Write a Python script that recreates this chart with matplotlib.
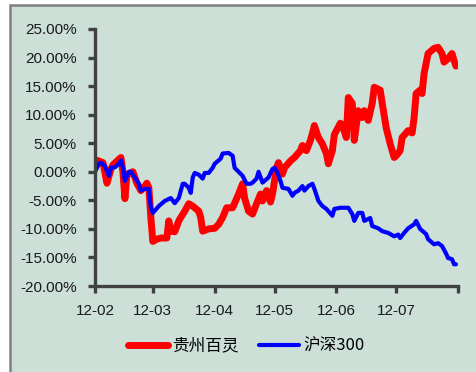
import numpy as np
import pandas as pd
import matplotlib
matplotlib.use('Agg')
import matplotlib.pyplot as plt
from matplotlib.patches import Rectangle

# days since 2012-02-01 and cumulative return (%)
red_days = [0, 1, 4, 6, 8, 9, 12, 13, 14, 15, 16, 19, 21, 23, 25, 26, 27, 28, 29, 31,
            33, 36, 37, 38, 40, 42, 43, 45, 47, 49, 52, 53, 54, 57, 60, 62, 64, 66, 69, 72,
            74, 75, 77, 79, 81, 83, 84, 86, 88, 89, 91, 92, 94, 95, 98, 100, 103, 104, 106, 108,
            109, 110, 112, 114, 116, 117, 119, 120, 123, 124, 126, 127, 129, 130, 132, 134, 135, 137, 139, 140,
            143, 144, 146, 148, 150, 151, 153, 154, 157, 159, 160, 161, 163, 164, 165, 167, 170, 172, 174, 175,
            177, 179, 180, 181]
red_vals = [1.0, 2.0, 1.6, -2.0, 0.5, 1.2, 2.2, 2.5, 0.0, -4.7, -0.5, 0.0, -2.0, -3.3, -2.5, -2.0, -2.8, -8.0, -12.2, -11.8,
            -11.6, -11.6, -8.6, -10.4, -10.5, -8.6, -8.0, -6.9, -5.6, -6.0, -6.9, -8.0, -10.4, -10.0, -9.9, -9.2, -8.0, -6.3, -6.3, -3.9,
            -2.1, -4.6, -6.9, -7.4, -5.6, -3.9, -5.1, -3.3, -5.3, -3.9, 0.7, 1.6, -0.4, 0.7, 1.9, 2.5, 3.7, 4.6, 3.7, 5.5,
            6.7, 8.1, 6.0, 4.9, 3.2, 1.4, 3.7, 6.5, 8.5, 8.2, 6.0, 13.0, 12.0, 5.5, 10.7, 9.5, 10.7, 9.0, 12.0, 14.8,
            14.3, 12.0, 7.7, 4.9, 2.5, 2.8, 3.7, 6.0, 7.2, 6.8, 9.5, 13.7, 14.3, 13.7, 17.2, 20.7, 21.6, 21.8, 20.7, 19.2,
            19.8, 20.7, 19.5, 18.5]

blue_days = [0, 2, 3, 5, 7, 8, 10, 12, 13, 14, 15, 17, 18, 20, 22, 23, 25, 27, 28, 29,
             32, 35, 38, 40, 42, 44, 45, 47, 48, 49, 50, 52, 54, 55, 57, 59, 60, 63, 64, 67,
             69, 70, 72, 74, 76, 78, 79, 81, 82, 84, 85, 87, 89, 90, 91, 93, 94, 97, 99, 100,
             102, 104, 105, 107, 109, 110, 112, 114, 116, 117, 119, 120, 123, 125, 127, 129, 130, 132, 134, 135,
             138, 139, 142, 144, 147, 150, 152, 153, 155, 157, 160, 161, 163, 166, 167, 170, 172, 174, 176, 177,
             179, 180, 181]
blue_vals = [0.0, 1.4, 1.6, 1.0, -0.7, 0.7, 0.8, 1.4, 2.0, 0.7, -1.6, 0.0, 0.0, -1.0, -2.1, -3.3, -3.0, -3.0, -6.3, -7.2,
             -6.0, -5.1, -4.6, -5.5, -4.6, -2.1, -2.1, -2.8, -3.7, -1.0, -0.2, -0.5, -1.2, -0.2, -0.2, 0.7, 1.4, 2.3, 3.2, 3.3,
             2.8, 0.7, 0.0, -0.7, -2.1, -2.1, -1.9, -1.2, 0.0, -1.9, -1.6, -1.0, 0.5, 0.7, 0.2, -1.6, -2.8, -3.0, -4.2, -3.7,
             -3.3, -2.5, -3.3, -2.5, -2.1, -3.0, -5.1, -6.0, -6.5, -6.9, -7.7, -6.5, -6.3, -6.3, -6.3, -7.4, -8.6, -7.2, -7.2, -8.6,
             -8.1, -9.5, -9.9, -10.4, -10.7, -11.3, -11.0, -11.6, -10.7, -9.9, -9.2, -8.6, -10.0, -10.9, -11.8, -12.7, -12.5, -13.0, -14.3, -15.1,
             -15.3, -16.2, -16.2]

series_names = ['贵州百灵', '沪深300']
month_labels = ['12-02', '12-03', '12-04', '12-05', '12-06', '12-07', '']
y_ticks = [-20, -15, -10, -5, 0, 5, 10, 15, 20, 25]

bg = '#cce0d8'
spine_color = '#404040'

start = pd.Timestamp('2012-02-01')
month_starts = pd.date_range('2012-02-01', '2012-08-01', freq='MS')
tick_pos = [(d - start).days for d in month_starts]

fig = plt.figure(figsize=(4.76, 3.72), dpi=100)
fig.patch.set_facecolor('white')
# gray framed panel (top/left border visible)
fig.patches.append(Rectangle((10 / 476, -0.1), 1.2, 1.1 - 5 / 372, transform=fig.transFigure,
                             facecolor=bg, edgecolor='#808080', linewidth=1.8, zorder=-5))

ax = fig.add_axes([95 / 476, 1 - 286 / 372, (458 - 95) / 476, (286 - 29) / 372])
ax.set_facecolor('none')
ax.set_zorder(2)

ax.plot(red_days, red_vals, color='#ff0000', lw=5.0, solid_capstyle='round',
        solid_joinstyle='round', label=series_names[0])
ax.plot(blue_days, blue_vals, color='#0000ff', lw=3.0, solid_capstyle='round',
        solid_joinstyle='round', label=series_names[1])

ax.set_xlim(tick_pos[0], tick_pos[-1])
ax.set_ylim(-20, 25)
ax.set_xticks(tick_pos)
ax.set_xticklabels(month_labels)
ax.set_yticks(y_ticks)
ax.set_yticklabels([f'{v:.2f}%' for v in y_ticks])

for side in ['top', 'right']:
    ax.spines[side].set_visible(False)
for side in ['left', 'bottom']:
    ax.spines[side].set_color(spine_color)
    ax.spines[side].set_linewidth(2.4)
ax.tick_params(axis='both', direction='out', length=5, width=2.4, color=spine_color,
               labelsize=11, labelcolor='#1a1a1a')
ax.tick_params(axis='y', pad=8)
ax.tick_params(axis='x', pad=8)
for lab in ax.get_xticklabels() + ax.get_yticklabels():
    lab.set_family('Liberation Sans')

leg = fig.legend(loc='center', bbox_to_anchor=(0.517, 0.07), ncol=2, frameon=False,
                 handlelength=2.4, columnspacing=1.25, handletextpad=0.25,
                 prop={'family': ['Noto Sans CJK SC', 'DejaVu Sans'], 'size': 12})
leg.set_zorder(3)

fig.savefig('out.png', dpi=100, facecolor=fig.get_facecolor())
